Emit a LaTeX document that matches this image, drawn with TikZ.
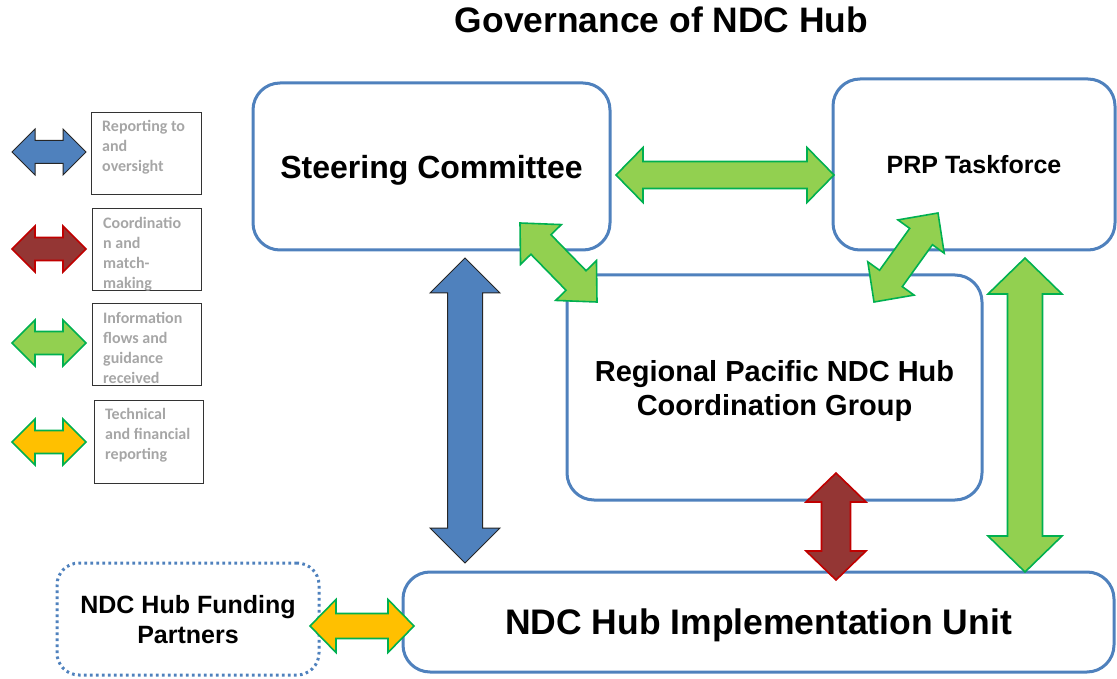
\documentclass[tikz,border=0pt]{standalone}
\usepackage{fontspec}
\setmainfont{Liberation Sans}
\newfontfamily\legendfont{Carlito}
\usetikzlibrary{calc}

\definecolor{boxblue}{RGB}{79,129,189}
\definecolor{arrowblue}{RGB}{79,129,189}
\definecolor{arrowgreen}{RGB}{146,208,80}
\definecolor{edgegreen}{RGB}{0,176,80}
\definecolor{arrowred}{RGB}{148,54,52}
\definecolor{edgered}{RGB}{192,0,0}
\definecolor{arroworange}{RGB}{255,192,0}
\definecolor{legendgrey}{RGB}{166,166,166}

% Block double arrow from #2 to #3: #4 head half width, #5 shaft half width, #6 head length
\newcommand\blockarrow[6]{%
  \draw[#1] (#2)
    -- ($(#2)!#6!(#3)!#4!90:(#3)$)
    -- ($(#2)!#6!(#3)!#5!90:(#3)$)
    -- ($(#3)!#6!(#2)!#5!-90:(#2)$)
    -- ($(#3)!#6!(#2)!#4!-90:(#2)$)
    -- (#3)
    -- ($(#3)!#6!(#2)!#4!90:(#2)$)
    -- ($(#3)!#6!(#2)!#5!90:(#2)$)
    -- ($(#2)!#6!(#3)!#5!-90:(#3)$)
    -- ($(#2)!#6!(#3)!#4!-90:(#3)$)
    -- cycle;}

\tikzset{
  unitbox/.style={draw=boxblue, line width=3pt, rounded corners=27pt, fill=white,
    align=center, inner sep=0pt, text depth=0pt},
  partnerbox/.style={draw=boxblue, line width=3pt, rounded corners=22pt,
    dash pattern=on 2.6pt off 3.4pt, align=center, inner sep=0pt, text depth=0pt},
  legendbox/.style={draw=black!80, line width=0.9pt, inner sep=0pt},
  legendtext/.style={anchor=north west, inner sep=0pt, align=left, text=legendgrey,
    font=\legendfont\bfseries\fontsize{16}{20}\selectfont},
  bluearrow/.style={fill=arrowblue, draw=black!85, line width=1pt},
  greenarrow/.style={fill=arrowgreen, draw=edgegreen, line width=1.6pt},
  redarrow/.style={fill=arrowred, draw=edgered, line width=1.6pt},
  orangearrow/.style={fill=arroworange, draw=edgegreen, line width=1.6pt},
}

\begin{document}
\begin{tikzpicture}[x=1pt, y=-1pt]
\useasboundingbox (0,0) rectangle (1117,679);

% Title
\node[font=\bfseries\fontsize{35.4}{40}\selectfont] (title) at (661.5,20) {Governance of NDC Hub};

% Bodies
\node[unitbox, minimum width=357pt, minimum height=167pt,
  font=\bfseries\fontsize{32}{36}\selectfont] (sc) at (431.5,166.5) {Steering Committee};
\node[unitbox, minimum width=282pt, minimum height=171pt,
  font=\bfseries\fontsize{25}{29}\selectfont] (prp) at (974,164.5) {PRP Taskforce};
\node[unitbox, minimum width=415pt, minimum height=225pt,
  font=\bfseries\fontsize{29}{34}\selectfont] (rg) at (774.5,387.5)
  {Regional Pacific NDC Hub\\ Coordination Group};
\node[unitbox, minimum width=711pt, minimum height=100pt,
  font=\bfseries\fontsize{35.5}{40}\selectfont] (iu) at (758.5,622)
  {NDC Hub Implementation Unit};
\node[partnerbox, minimum width=262pt, minimum height=112pt,
  font=\bfseries\fontsize{25}{30}\selectfont] (fp) at (188,619)
  {NDC Hub Funding\\ Partners};

% Arrow end points
\coordinate (scprpA) at (616,175);
\coordinate (scprpB) at (834,175);
\coordinate (scrgA) at (520,223);
\coordinate (scrgB) at (597,302);
\coordinate (prprgA) at (938,213);
\coordinate (prprgB) at (874,302);
\coordinate (sciuA) at (465,258);
\coordinate (sciuB) at (465,563);
\coordinate (rgiuA) at (836,473);
\coordinate (rgiuB) at (836,580);
\coordinate (prpiuA) at (1025,258);
\coordinate (prpiuB) at (1025,572);
\coordinate (fpiuA) at (310,626);
\coordinate (fpiuB) at (414,626);

% Connectors
\blockarrow{greenarrow}{scprpA}{scprpB}{27.5pt}{13.5pt}{27pt}
\blockarrow{greenarrow}{scrgA}{scrgB}{28.5pt}{14pt}{30pt}
\blockarrow{greenarrow}{prprgA}{prprgB}{28.5pt}{14pt}{29pt}
\blockarrow{bluearrow}{sciuA}{sciuB}{35pt}{17.5pt}{35pt}
\blockarrow{redarrow}{rgiuA}{rgiuB}{30pt}{14.5pt}{29pt}
\blockarrow{greenarrow}{prpiuA}{prpiuB}{37pt}{17.5pt}{36pt}
\blockarrow{orangearrow}{fpiuA}{fpiuB}{26.5pt}{12.5pt}{26pt}

% Legend
\coordinate (lgA1) at (12,152);  \coordinate (lgB1) at (86,152);
\coordinate (lgA2) at (12,249);  \coordinate (lgB2) at (86,249);
\coordinate (lgA3) at (12,343);  \coordinate (lgB3) at (86,343);
\coordinate (lgA4) at (12,442);  \coordinate (lgB4) at (86,442);
\blockarrow{bluearrow}{lgA1}{lgB1}{23pt}{11.5pt}{23pt}
\blockarrow{redarrow}{lgA2}{lgB2}{23pt}{11.5pt}{23pt}
\blockarrow{greenarrow}{lgA3}{lgB3}{23pt}{11.5pt}{23pt}
\blockarrow{orangearrow}{lgA4}{lgB4}{23pt}{11.5pt}{23pt}

\node[legendbox, minimum width=110pt, minimum height=82pt] (lg1) at (146,153) {};
\node[legendbox, minimum width=109pt, minimum height=82pt] (lg2) at (146.5,249) {};
\node[legendbox, minimum width=109pt, minimum height=82pt] (lg3) at (146.5,344) {};
\node[legendbox, minimum width=109pt, minimum height=83pt] (lg4) at (148.5,441.5) {};

\node[legendtext] (lt1) at (102,120) {Reporting to\\and\\oversight};
\node[legendtext] (lt2) at (103,217) {Coordinatio\\n and\\match-\\making};
\node[legendtext] (lt3) at (103,312) {Information\\flows and\\guidance\\received};
\node[legendtext] (lt4) at (105,408) {Technical\\and financial\\reporting};
\end{tikzpicture}
\end{document}
